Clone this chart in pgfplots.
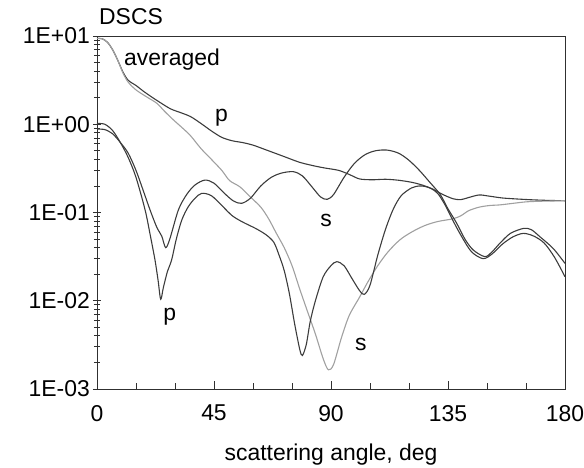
\documentclass[border=0pt]{standalone}
\usepackage{fontspec}
\setmainfont{Liberation Sans}
\usepackage{pgfplots}
\pgfplotsset{compat=1.18}

\definecolor{darkline}{HTML}{3C3C3C}
\definecolor{grayline}{HTML}{A0A0A0}
\definecolor{axisline}{HTML}{303030}

\newcommand{\bigfont}{\fontsize{23}{27}\selectfont}

\begin{document}
\begin{tikzpicture}
\begin{axis}[
  scale only axis,
  width=468bp, height=353bp,
  ymode=log,
  xmin=0, xmax=180,
  ymin=1e-3, ymax=10,
  axis line style={axisline, line width=0.9bp},
  xtick={0,45,90,135,180},
  xticklabels={0,45,90,135,180},
  minor xtick={15,30,60,75,105,120,150,165},
  ytick={1e-3,1e-2,1e-1,1,10},
  yticklabels={1E-03,1E-02,1E-01,1E+00,1E+01},
  minor ytick={2e-3,3e-3,4e-3,5e-3,6e-3,7e-3,8e-3,9e-3,
               2e-2,3e-2,4e-2,5e-2,6e-2,7e-2,8e-2,9e-2,
               2e-1,3e-1,4e-1,5e-1,6e-1,7e-1,8e-1,9e-1,
               2,3,4,5,6,7,8,9},
  xtick pos=bottom, ytick pos=left,
  xtick align=inside, ytick align=center,
  major tick length=8bp, minor tick length=6bp,
  every tick/.style={axisline, line width=0.8bp},
  tick label style={font=\bigfont, inner sep=0pt},
  yticklabel style={anchor=east, xshift=-3bp},
  xticklabel style={anchor=north, yshift=-16bp},
  xlabel={scattering angle, deg},
  xlabel style={font=\bigfont, inner sep=0pt, anchor=base, at={(axis description cs:0.5,0)}, yshift=-71bp},
  clip mode=individual,
]

% averaged, p polarisation
\addplot[darkline, line width=1.1bp, smooth, tension=0.5] coordinates {
(0,9.4) (2,9.3) (4,8.5) (6,7.0) (8,5.3) (10,3.9) (12,3.15) (15,2.75) (18,2.35)
(22,1.95) (28,1.51) (32,1.36) (36,1.22) (40,1.02) (44,0.84) (48,0.71) (52,0.65)
(56,0.62) (60,0.58) (66,0.50) (72,0.43) (78,0.37) (84,0.335) (88,0.318) (93,0.30)
(97,0.27) (101,0.24) (106,0.235) (111,0.238) (116,0.232) (121,0.22) (125,0.205)
(129,0.185) (133,0.16) (137,0.143) (140,0.14) (143,0.148) (147,0.158) (151,0.153)
(156,0.146) (162,0.142) (168,0.139) (174,0.137) (180,0.136)
};

% averaged, s polarisation
\addplot[grayline, line width=1.1bp, smooth, tension=0.5] coordinates {
(0,9.4) (2,9.3) (4,8.5) (6,7.0) (8,5.3) (10,3.8) (12,3.0) (15,2.45) (19,2.05)
(23,1.73) (26,1.4) (29.4,1.12) (33,0.9) (36,0.74) (40,0.53) (44,0.4) (48,0.3)
(51,0.23) (55,0.195) (59,0.15) (63,0.115) (66,0.085) (69,0.058) (72,0.04)
(75,0.025) (78,0.0135) (81,0.0075) (84,0.0042) (87,0.0022) (89,0.00165)
(91,0.0019) (94,0.0038) (97,0.0068) (101,0.011) (104,0.016) (108,0.025)
(112,0.036) (116.5,0.049) (121,0.06) (126,0.071) (131,0.079) (137,0.085)
(140,0.092) (143,0.105) (147,0.115) (151,0.12) (155,0.122) (160,0.127)
(165,0.132) (170,0.134) (175,0.135) (180,0.136)
};

% single particle, p polarisation
\addplot[darkline, line width=1.1bp, smooth, tension=0.5] coordinates {
(0,1.02) (3,1.0) (6,0.85) (9,0.62) (12,0.42) (15,0.25) (18.5,0.107) (20.5,0.055)
(22.3,0.029) (23.5,0.017) (24.5,0.0104) (25.5,0.014) (27,0.021) (28.7,0.029)
(30.5,0.05) (32.6,0.082) (35,0.115) (37.7,0.145) (40.3,0.165) (44,0.155)
(48,0.12) (52,0.092) (56,0.078) (61,0.066) (65,0.056) (68,0.046) (70,0.033)
(72,0.022) (74,0.012) (76,0.0055) (78,0.0028) (79,0.0024) (80.5,0.0032)
(82,0.0058) (84,0.01) (87,0.0187) (90,0.025) (92.2,0.0277) (95,0.025)
(98,0.018) (101,0.013) (102.8,0.0118) (105,0.015) (108,0.033) (111,0.065)
(114,0.11) (117,0.155) (121,0.19) (124.5,0.2) (128,0.19) (131,0.165)
(134,0.12) (137,0.08) (140,0.055) (144,0.036) (148.5,0.030) (152,0.034)
(156,0.044) (160,0.053) (164,0.058) (168,0.054) (172,0.045) (176,0.031)
(180,0.0187)
};

% single particle, s polarisation
\addplot[darkline, line width=1.1bp, smooth, tension=0.5] coordinates {
(0,0.88) (3,0.87) (6,0.78) (9,0.62) (12,0.47) (15,0.3) (18,0.17) (20.4,0.107)
(23,0.068) (24.9,0.054) (26.4,0.040) (28,0.05) (31.3,0.107) (34.5,0.16)
(37.7,0.205) (41.5,0.233) (45,0.215) (49,0.165) (52.5,0.135) (55.6,0.127)
(59,0.145) (63,0.2) (67,0.25) (71,0.28) (75.5,0.29) (79,0.26) (83,0.19)
(86,0.15) (88.5,0.141) (91,0.16) (95,0.25) (99,0.36) (103,0.45) (107,0.5)
(111.5,0.51) (116,0.47) (120,0.39) (124,0.3) (128,0.22) (132,0.16) (135,0.11)
(138.3,0.076) (141.5,0.05) (144.7,0.0376) (149.2,0.0316) (152,0.036)
(155,0.045) (159,0.058) (164,0.066) (167,0.064) (170.4,0.053) (175.5,0.039)
(180,0.0265)
};

\node[font=\bigfont, inner sep=0pt, anchor=base west] at (axis cs:10.4,4.69) {averaged};
\node[font=\bigfont, inner sep=0pt, anchor=base west] at (axis cs:45.4,1.07) {p};
\node[font=\bigfont, inner sep=0pt, anchor=base west] at (axis cs:85.8,0.069) {s};
\node[font=\bigfont, inner sep=0pt, anchor=base west] at (axis cs:25.5,0.00605) {p};
\node[font=\bigfont, inner sep=0pt, anchor=base west] at (axis cs:99.2,0.00272) {s};
\end{axis}
\node[font=\bigfont, inner sep=0pt, anchor=base west, xshift=2bp, yshift=11bp] at (current axis.north west) {DSCS};
\pgfresetboundingbox
\useasboundingbox ([shift={(-97bp,-79bp)}]current axis.south west) rectangle ([shift={(19bp,36bp)}]current axis.north east);
\end{tikzpicture}
\end{document}
